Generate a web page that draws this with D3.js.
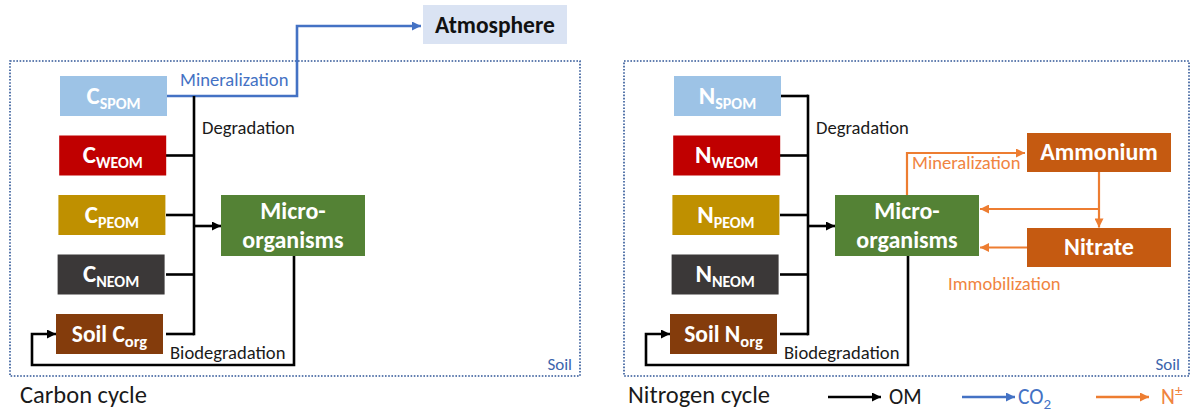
<!DOCTYPE html>
<html><head><meta charset="utf-8">
<script src="https://cdn.jsdelivr.net/npm/d3@7"></script>
<style>
html,body{margin:0;padding:0;background:#fff;}
svg{display:block;font-family:Carlito, Lato, "Open Sans", sans-serif;}
</style></head>
<body><svg id="c" width="1195" height="414"></svg>
<script>
// ---- data ----
const panels = ["Carbon cycle", "Nitrogen cycle"];
const elements = ["C", "N"];
const pools = ["SPOM", "WEOM", "PEOM", "NEOM"];
const poolColors = ["#9dc3e6", "#c00000", "#bf9000", "#3b3838"];
const soilPool = "org";
const soilColor = "#843c0c";
const microLines = ["Micro-", "organisms"];
const microColor = "#548235";
const nitrogenForms = ["Ammonium", "Nitrate"];
const nitrogenColor = "#c55a11";
const atmosphereLabel = "Atmosphere";
const processLabels = ["Degradation", "Biodegradation", "Mineralization", "Immobilization"];
const zoneLabel = "Soil";
const legendLabels = ["OM", "CO", "N"];
const legendMarks = ["", "2", "±"];
const fluxColors = ["#000000", "#4472c4", "#ed7d31"];

// ---- layout scales ----
const svg = d3.select("#c");
const panelX = d3.scaleOrdinal().domain(panels).range([0, 614]);
const rowY = d3.scalePoint().domain([...pools, soilPool]).range([96, 334]);
const nY = d3.scaleOrdinal().domain(nitrogenForms).range([152.5, 247.5]);
const legendX = d3.scalePoint().domain(legendLabels).range([828, 1096]);

const textBlue = "#4472c4", textOrange = "#f0843f", textDark = "#1a1a1a";
const labelSize = 18.6;

// markers
const defs = svg.append("defs");
fluxColors.forEach((c, i) => {
  defs.append("marker").attr("id", "arr" + i)
    .attr("viewBox", "0 0 10 10").attr("refX", 10).attr("refY", 5)
    .attr("markerUnits", "userSpaceOnUse").attr("markerWidth", 10).attr("markerHeight", 9)
    .attr("orient", "auto")
    .append("path").attr("d", "M0,0 L10,5 L0,10 z").attr("fill", c);
});
const line = d3.line();

panels.forEach((p, pi) => {
  const ox = panelX(p);
  const g = svg.append("g").attr("transform", `translate(${ox},0)`);
  const el = elements[pi];

  // dotted soil frame
  g.append("rect").attr("x", 10).attr("y", 61).attr("width", pi ? 565 : 570).attr("height", 315)
    .attr("fill", "none").attr("stroke", "#2f5597").attr("stroke-width", 1.6)
    .attr("stroke-dasharray", "1.6,1.6");
  g.append("text").attr("x", pi ? 566 : 572).attr("y", 370).attr("text-anchor", "end")
    .attr("font-size", 17).attr("fill", "#3c64ac").text(zoneLabel);

  // panel title
  g.append("text").attr("x", pi ? 14 : 20).attr("y", 403).attr("font-size", 24.5)
    .attr("fill", textDark).text(p);

  // mineralization to atmosphere (carbon only)
  if (pi === 0) {
    g.append("path").attr("d", line([[167, rowY("SPOM")], [297, rowY("SPOM")], [297, 26], [421, 26]]))
      .attr("fill", "none").attr("stroke", fluxColors[1]).attr("stroke-width", 2.6)
      .attr("marker-end", "url(#arr1)");
    g.append("text").attr("x", 180).attr("y", 86).attr("font-size", labelSize).attr("fill", textBlue)
      .text(processLabels[2]);
  }

  // bus lines (degradation)
  const busX = 194;
  const rows = [...pools, soilPool];
  rows.forEach((r, i) => {
    if (pi === 0 && i === 0) return;
    g.append("path").attr("d", line([[166, rowY(r)], [busX, rowY(r)]]))
      .attr("stroke", "#000").attr("stroke-width", 2.6).attr("fill", "none");
  });
  g.append("path").attr("d", line([[busX, rowY("SPOM") - (pi ? 1.3 : 0)], [busX, rowY(soilPool) + 1.3]]))
    .attr("stroke", "#000").attr("stroke-width", 2.6);
  g.append("path").attr("d", line([[busX, 226], [221, 226]]))
    .attr("stroke", "#000").attr("stroke-width", 2.6).attr("marker-end", "url(#arr0)");
  g.append("text").attr("x", 202).attr("y", 134).attr("font-size", labelSize).attr("fill", textDark)
    .text(processLabels[0]);

  // biodegradation loop
  g.append("path").attr("d", line([[294, 256], [294, 365], [32, 365], [32, rowY(soilPool)], [56, rowY(soilPool)]]))
    .attr("fill", "none").attr("stroke", "#000").attr("stroke-width", 2.6)
    .attr("marker-end", "url(#arr0)");
  g.append("text").attr("x", 170).attr("y", 359).attr("font-size", labelSize).attr("fill", textDark)
    .text(processLabels[1]);

  // pool boxes
  pools.forEach((pname, i) => {
    const y = rowY(pname);
    const x = 60 - i * 0.8;
    g.append("rect").attr("x", x).attr("y", y - 20).attr("width", 107).attr("height", 40)
      .attr("fill", poolColors[i]);
    const t = g.append("text").attr("x", x + 53.5).attr("y", y + 7.5).attr("text-anchor", "middle")
      .attr("fill", "#fff").attr("font-weight", "bold");
    t.append("tspan").attr("font-size", 25).text(el);
    t.append("tspan").attr("font-size", 16).attr("dy", 5).text(pname);
  });
  // soil organic box
  {
    const y = rowY(soilPool);
    g.append("rect").attr("x", 56).attr("y", y - 20).attr("width", 107).attr("height", 40)
      .attr("fill", soilColor);
    const t = g.append("text").attr("x", 56 + 53.5).attr("y", y + 8).attr("text-anchor", "middle")
      .attr("fill", "#fff").attr("font-weight", "bold");
    t.append("tspan").attr("font-size", 23.5).text("Soil " + el);
    t.append("tspan").attr("font-size", 16.5).attr("dy", 5).text(soilPool);
  }

  // micro-organisms
  g.append("rect").attr("x", 221).attr("y", 195).attr("width", 144).attr("height", 61)
    .attr("fill", microColor);
  microLines.forEach((m, i) => {
    g.append("text").attr("x", 293).attr("y", 219 + i * 29).attr("text-anchor", "middle")
      .attr("fill", "#fff").attr("font-weight", "bold").attr("font-size", 24).text(m);
  });

  if (pi === 0) {
    g.append("rect").attr("x", 423).attr("y", 5).attr("width", 144).attr("height", 39)
      .attr("fill", "#dae3f3");
    g.append("text").attr("x", 495).attr("y", 32.5).attr("text-anchor", "middle")
      .attr("font-weight", "bold").attr("font-size", 23.5).attr("fill", "#111").text(atmosphereLabel);
  } else {
    const oc = fluxColors[2];
    const sw = 2.2;
    const a = nY("Ammonium"), n = nY("Nitrate");
    g.append("path").attr("d", line([[293, 195], [293, 153], [411, 153]]))
      .attr("fill", "none").attr("stroke", oc).attr("stroke-width", sw).attr("marker-end", "url(#arr2)");
    g.append("path").attr("d", line([[485, a + 19.5], [485, n - 20]]))
      .attr("fill", "none").attr("stroke", oc).attr("stroke-width", sw).attr("marker-end", "url(#arr2)");
    g.append("path").attr("d", line([[485, 209], [366, 209]]))
      .attr("fill", "none").attr("stroke", oc).attr("stroke-width", sw).attr("marker-end", "url(#arr2)");
    g.append("path").attr("d", line([[413, 247.5], [366, 247.5]]))
      .attr("fill", "none").attr("stroke", oc).attr("stroke-width", sw).attr("marker-end", "url(#arr2)");
    g.append("text").attr("x", 298).attr("y", 169).attr("font-size", labelSize).attr("fill", textOrange)
      .text(processLabels[2]);
    g.append("text").attr("x", 334).attr("y", 290).attr("font-size", labelSize).attr("fill", textOrange)
      .text(processLabels[3]);
    nitrogenForms.forEach(f => {
      const y = nY(f);
      g.append("rect").attr("x", 413).attr("y", y - 19.5).attr("width", 144).attr("height", 39)
        .attr("fill", nitrogenColor);
      g.append("text").attr("x", 485).attr("y", y + 7.5).attr("text-anchor", "middle")
        .attr("fill", "#fff").attr("font-weight", "bold").attr("font-size", 24).text(f);
    });
  }
});

// legend
legendLabels.forEach((lab, i) => {
  const x = legendX(lab);
  svg.append("path").attr("d", line([[x, 397], [x + 53, 397]]))
    .attr("stroke", fluxColors[i]).attr("stroke-width", 2.6).attr("marker-end", `url(#arr${i})`);
  const t = svg.append("text").attr("x", x + (i === 0 ? 61 : i === 1 ? 56 : 65)).attr("y", 404)
    .attr("font-size", 21.5).attr("fill", i === 0 ? textDark : (i === 1 ? textBlue : textOrange));
  t.append("tspan").text(lab);
  if (legendMarks[i] === "2") t.append("tspan").attr("font-size", 15).attr("dy", 5).text(legendMarks[i]);
  else if (legendMarks[i]) t.append("tspan").attr("font-size", 15).attr("dy", -8).text(legendMarks[i]);
});
</script></body></html>
